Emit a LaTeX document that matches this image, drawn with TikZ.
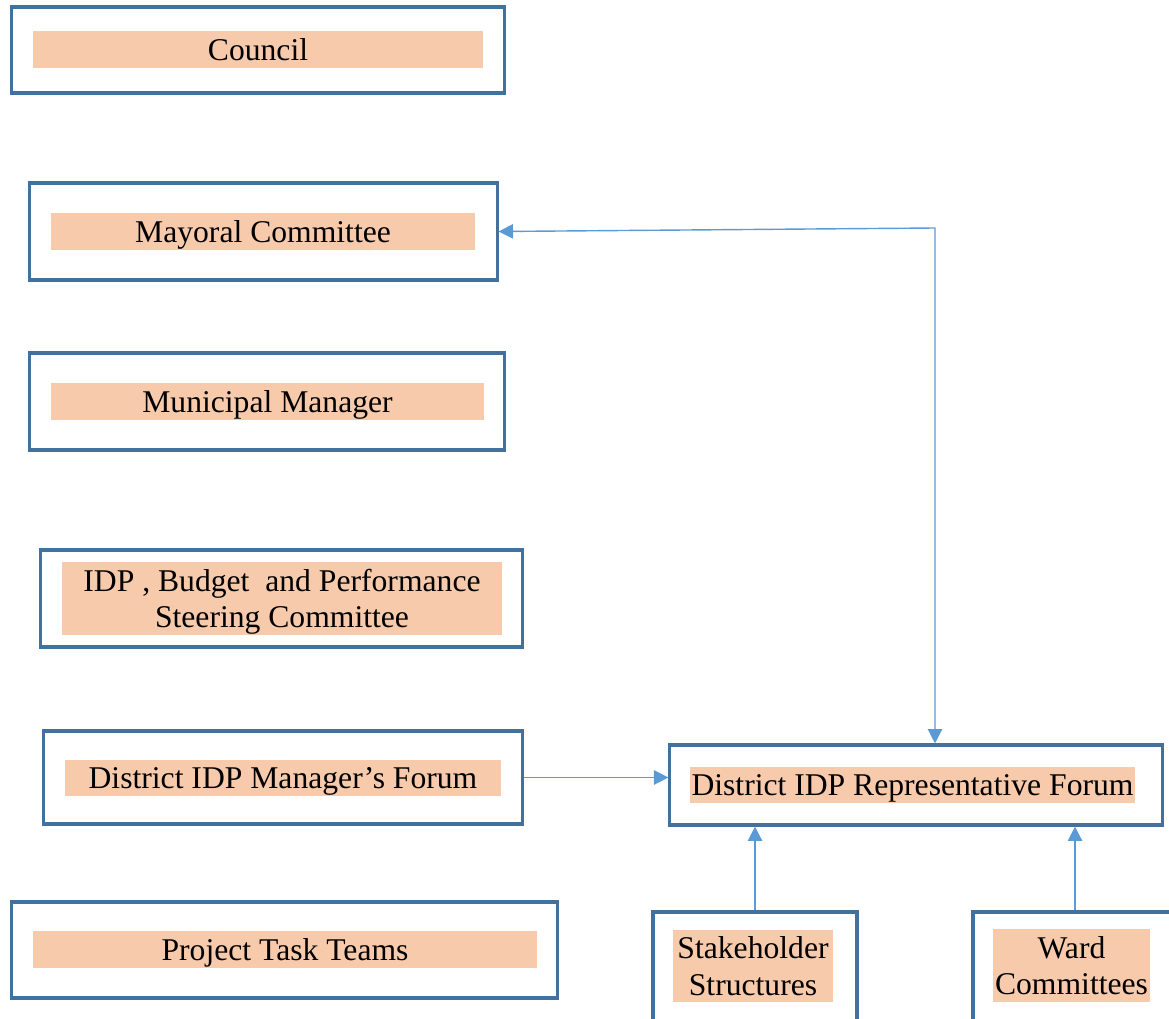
\documentclass[tikz,border=0pt]{standalone}
\usepackage{fontspec}
\setmainfont{Liberation Serif}
\usetikzlibrary{arrows.meta}
\definecolor{boxline}{HTML}{41719C}
\definecolor{linkline}{HTML}{5B9BD5}
\definecolor{labelfill}{HTML}{F7CAAC}
\tikzset{
  outerbox/.style={draw=boxline,line width=2.2pt,inner sep=0pt},
  labelbox/.style={fill=labelfill,inner sep=0pt,align=center,text depth=0pt,font=\fontsize{22.5}{26}\selectfont},
  link/.style={draw=linkline,line width=1pt,arrows={-Triangle[length=3.6mm,width=3.6mm]}}
}
\begin{document}
\begin{tikzpicture}[x=0.025cm,y=-0.025cm]
\useasboundingbox (0,0) rectangle (1169,1018);
\clip (0,0) rectangle (1169,1018);
\node (council) at (258,50) [outerbox,minimum width=12.3cm,minimum height=2.15cm] {};
\node at (258,49.5) [labelbox,minimum width=11.25cm,minimum height=0.925cm] {Council};
\node (mayor) at (263.5,231.5) [outerbox,minimum width=11.675cm,minimum height=2.425cm] {};
\node at (263,231.5) [labelbox,minimum width=10.6cm,minimum height=0.925cm] {Mayoral Committee};
\node (mm) at (267,401.5) [outerbox,minimum width=11.85cm,minimum height=2.425cm] {};
\node at (267.5,401.5) [labelbox,minimum width=10.825cm,minimum height=0.925cm] {Municipal Manager};
\node (steer) at (281.5,598.5) [outerbox,minimum width=12.025cm,minimum height=2.425cm] {};
\node at (282,598.5) [labelbox,minimum width=11cm,minimum height=1.825cm] {IDP , Budget\ \ and Performance\\Steering Committee};
\node (mgr) at (283,777.5) [outerbox,minimum width=11.95cm,minimum height=2.325cm] {};
\node at (283,778) [labelbox,minimum width=10.9cm,minimum height=0.9cm] {District IDP Manager’s Forum};
\node (ptt) at (284.5,950) [outerbox,minimum width=13.625cm,minimum height=2.4cm] {};
\node at (285,949.5) [labelbox,minimum width=12.6cm,minimum height=0.925cm] {Project Task Teams};
\node (rep) at (916,785) [outerbox,minimum width=12.3cm,minimum height=2cm] {};
\node at (912.5,785) [labelbox,minimum width=11.125cm,minimum height=0.9cm] {District IDP Representative Forum};
\node (stake) at (755,971) [outerbox,minimum width=5.1cm,minimum height=2.95cm] {};
\node at (753,966) [labelbox,minimum width=4cm,minimum height=1.8cm] {Stakeholder\\Structures};
\node (ward) at (1075,971) [outerbox,minimum width=5.1cm,minimum height=2.95cm] {};
\node at (1071.5,965.5) [labelbox,minimum width=3.925cm,minimum height=1.825cm] {Ward\\Committees};
\coordinate (turn) at (935,228);
\draw[link,arrows={Triangle[length=3.6mm,width=3.6mm]-Triangle[length=3.6mm,width=3.6mm]}] (mayor.east) -- (turn) -- (turn |- rep.north);
\draw[link] (mgr.east) -- (mgr.east -| rep.west);
\draw[link] (stake.north) -- (stake.north |- rep.south);
\draw[link] (ward.north) -- (ward.north |- rep.south);
\end{tikzpicture}
\end{document}
